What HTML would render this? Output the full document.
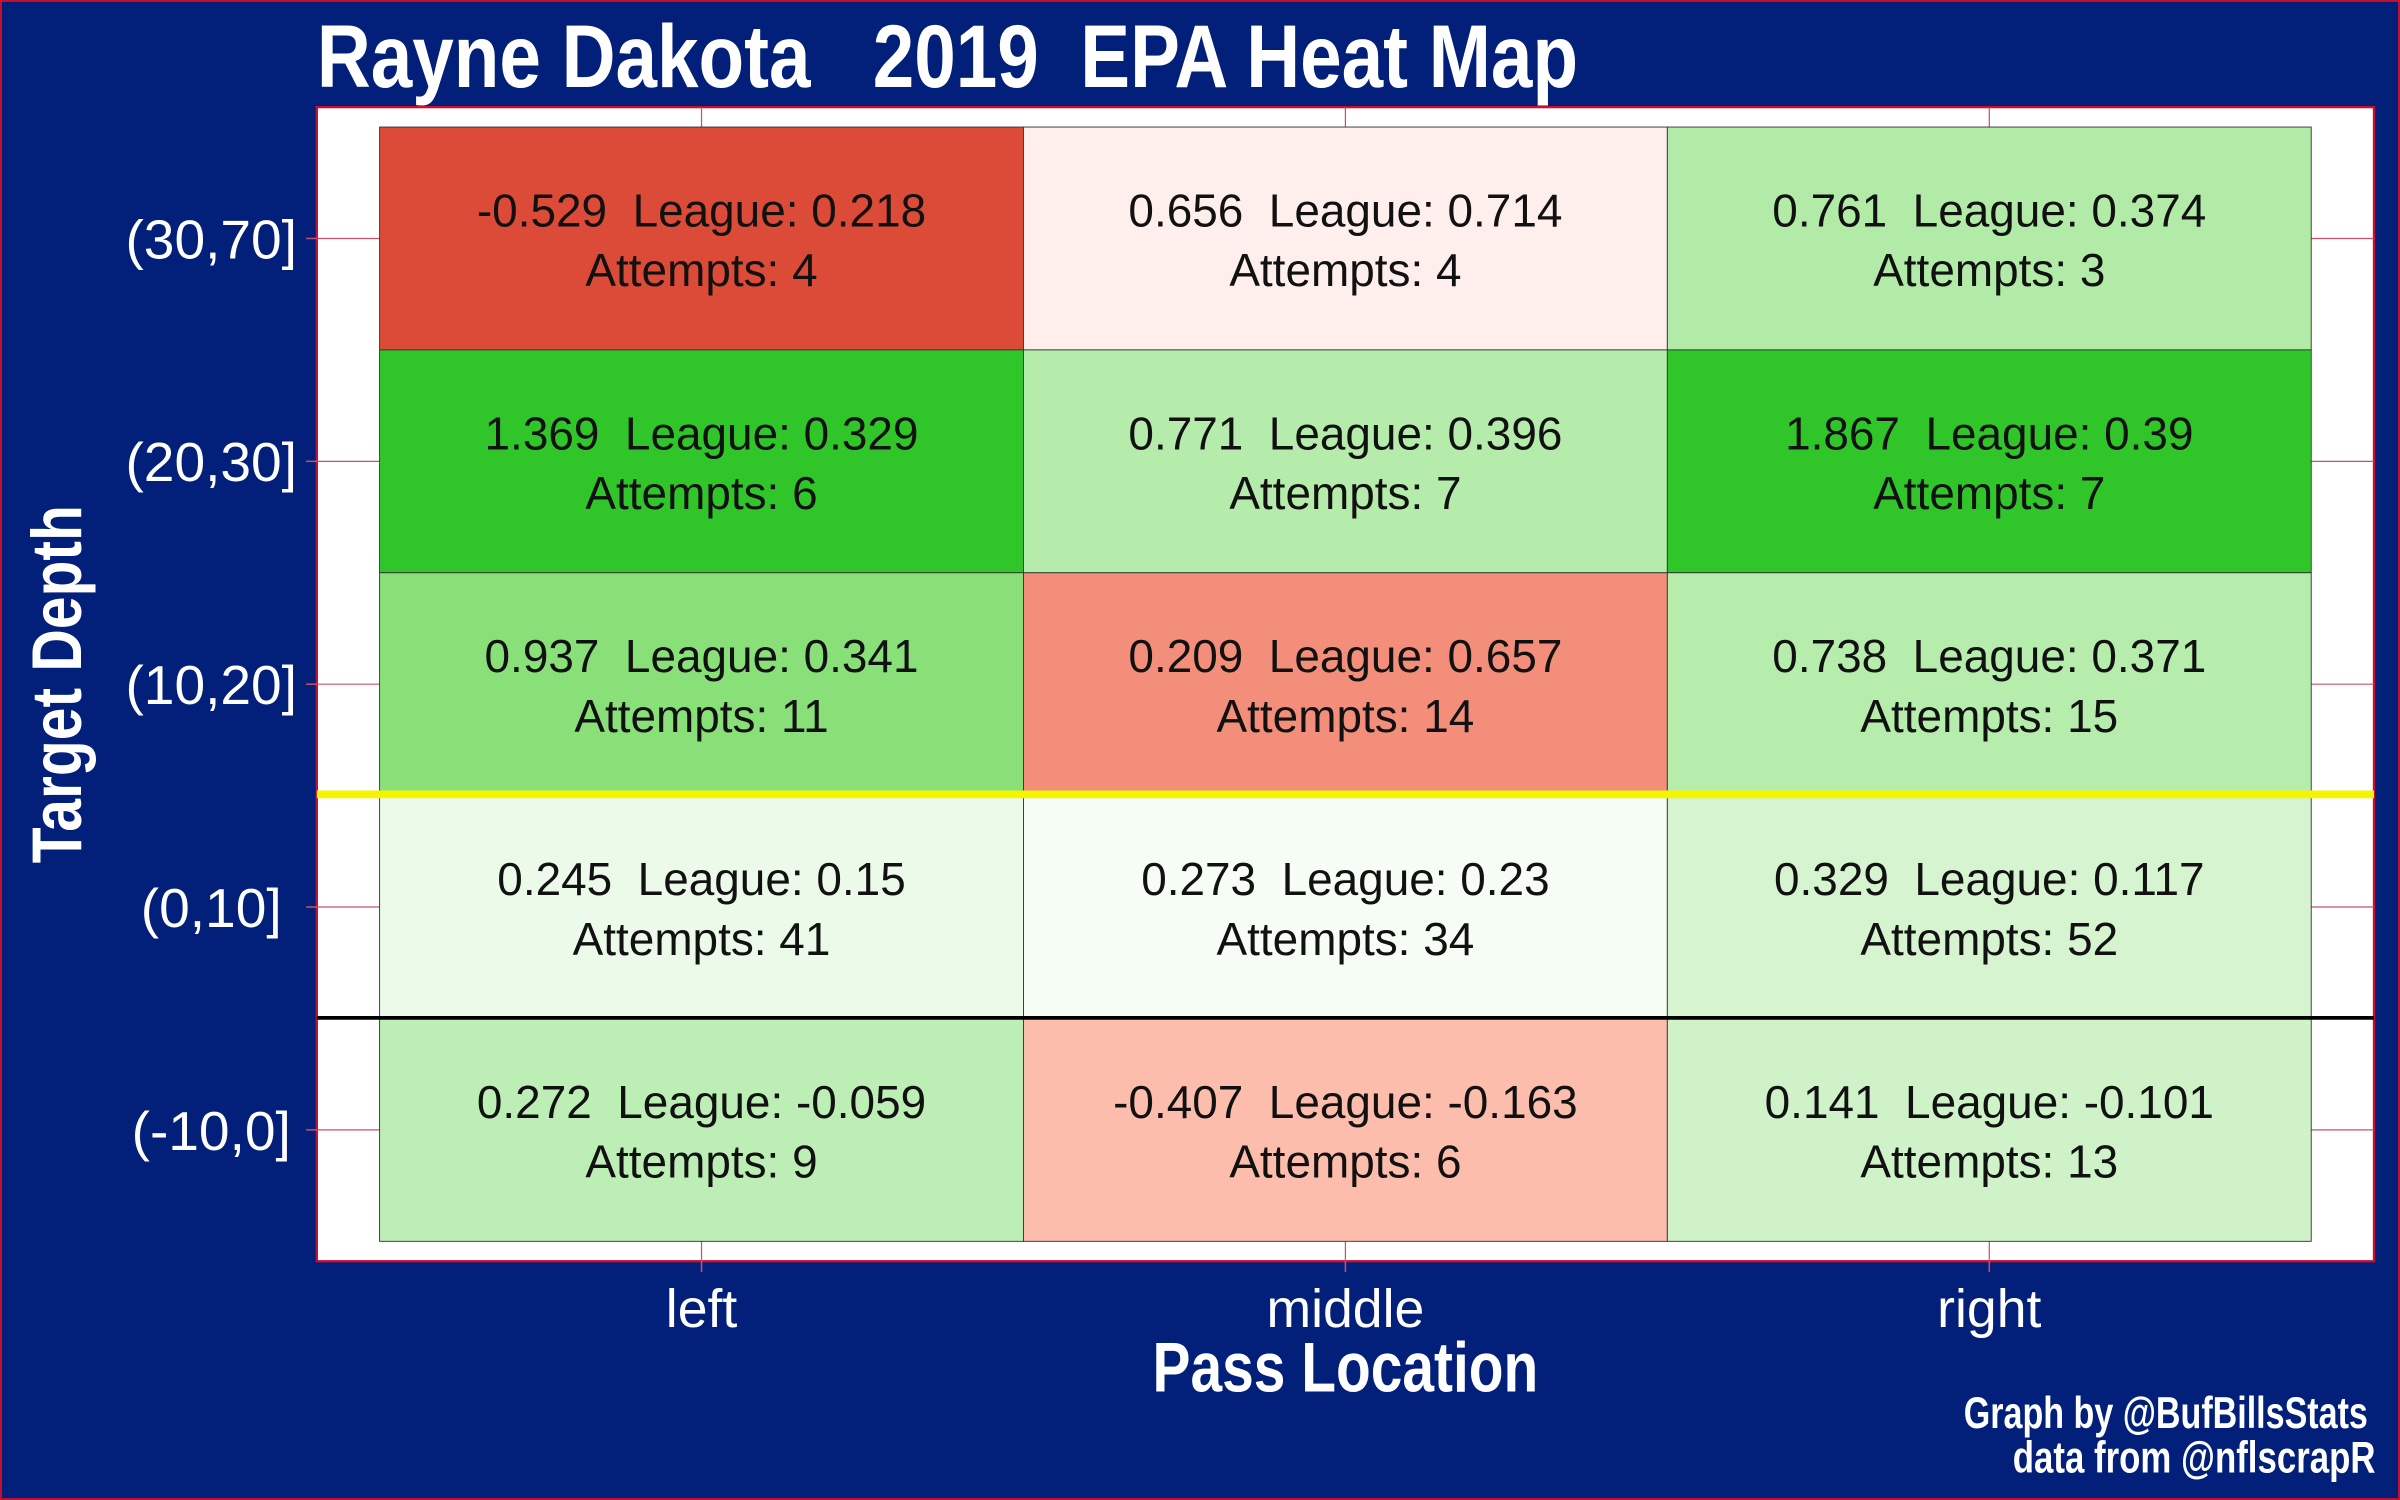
<!DOCTYPE html>
<html><head><meta charset="utf-8"><style>
html,body{margin:0;padding:0;background:#02207a;}
svg{display:block}
text{white-space:pre}
.cond{font-family:"Liberation Sans Narrow","Liberation Sans",sans-serif;font-weight:bold;fill:#fff}
.lbl{font-family:"Liberation Sans",sans-serif;}
</style></head><body>
<svg id="chart" width="2400" height="1500" viewBox="0 0 1568 980" xmlns="http://www.w3.org/2000/svg">
<rect x="0.5" y="0.5" width="1567" height="979" fill="#02207a" stroke="#c8102e" stroke-width="1.5"/>
<text class="cond" x="207" y="57" font-size="58" textLength="824" lengthAdjust="spacingAndGlyphs">Rayne Dakota   2019  EPA Heat Map</text>
<rect x="207" y="70" width="1344" height="754" fill="#fff" stroke="#c8102e" stroke-width="1.5"/>
<g id="grid"></g>
<g id="tiles"></g>
<g id="labels"></g>
<line x1="207" y1="519" x2="1551" y2="519" stroke="#f5f500" stroke-width="5"/>
<line x1="207" y1="665" x2="1551" y2="665" stroke="#000" stroke-width="2.5"/>
<g id="axes"></g>
<text class="cond" x="879" y="909" font-size="46" text-anchor="middle" textLength="252" lengthAdjust="spacingAndGlyphs">Pass Location</text>
<text class="cond" transform="translate(53,447) rotate(-90)" font-size="46" text-anchor="middle" textLength="234" lengthAdjust="spacingAndGlyphs">Target Depth</text>
<text class="cond" x="1547" y="933" font-size="29" text-anchor="end" textLength="264" lengthAdjust="spacingAndGlyphs">Graph by @BufBillsStats</text>
<text class="cond" x="1552" y="962" font-size="29" text-anchor="end" textLength="237" lengthAdjust="spacingAndGlyphs">data from @nflscrapR</text>
</svg>
<script>
const locations = ["left", "middle", "right"];
const depths = ["(30,70]", "(20,30]", "(10,20]", "(0,10]", "(-10,0]"];
const epaLeft = [-0.529, 1.369, 0.937, 0.245, 0.272];
const epaMiddle = [0.656, 0.771, 0.209, 0.273, -0.407];
const epaRight = [0.761, 1.867, 0.738, 0.329, 0.141];
const leagueLeft = [0.218, 0.329, 0.341, 0.15, -0.059];
const leagueMiddle = [0.714, 0.396, 0.657, 0.23, -0.163];
const leagueRight = [0.374, 0.39, 0.371, 0.117, -0.101];
const attLeft = [4, 6, 11, 41, 9];
const attMiddle = [4, 7, 14, 34, 6];
const attRight = [3, 7, 15, 52, 13];

const epa = [epaLeft, epaMiddle, epaRight];
const league = [leagueLeft, leagueMiddle, leagueRight];
const att = [attLeft, attMiddle, attRight];

const NS = "http://www.w3.org/2000/svg";
const tileX0 = 248, tileX1 = 1510, tileY0 = 83, tileY1 = 811;
const bw = (tileX1 - tileX0) / locations.length;
const bh = (tileY1 - tileY0) / depths.length;
function xScale(i){ return tileX0 + i * bw; }
function yScale(j){ return tileY0 + j * bh; }

const stops = [[-0.75,[220,74,54]],[-0.45,[242,142,122]],[-0.25,[253,187,171]],[0,[255,255,255]],[0.6,[136,224,120]],[1.0,[48,198,42]]];
function colorFor(d){
  if (d <= stops[0][0]) return "rgb(" + stops[0][1].join(",") + ")";
  for (let k = 1; k < stops.length; k++){
    if (d <= stops[k][0]){
      const a = stops[k-1], b = stops[k];
      const t = (d - a[0]) / (b[0] - a[0]);
      const c = a[1].map((v, i) => Math.round(v + (b[1][i] - v) * t));
      return "rgb(" + c.join(",") + ")";
    }
  }
  return "rgb(" + stops[stops.length-1][1].join(",") + ")";
}
function mk(tag, attrs, parent){
  const e = document.createElementNS(NS, tag);
  for (const k in attrs) e.setAttribute(k, attrs[k]);
  parent.appendChild(e);
  return e;
}
const grid = document.getElementById("grid");
const tiles = document.getElementById("tiles");
const labels = document.getElementById("labels");
const axes = document.getElementById("axes");

locations.forEach((loc, i) => {
  const cx = xScale(i) + bw / 2;
  const g = mk("line", {x1: cx, y1: 70, x2: cx, y2: 824, stroke: "#c8506a", "stroke-width": 0.8}, grid);
  
  
  const t = mk("line", {x1: cx, y1: 824, x2: cx, y2: 831, stroke: "#c8506a", "stroke-width": 1}, axes);
  
  
  const l = mk("text", {x: cx, y: 867, "font-size": 35, fill: "#fff", "text-anchor": "middle", class: "lbl"}, axes);
  l.textContent = loc;
  
  
});
depths.forEach((dep, j) => {
  const cy = yScale(j) + bh / 2;
  const g = mk("line", {x1: 207, y1: cy, x2: 1551, y2: cy, stroke: "#c8506a", "stroke-width": 0.8}, grid);
  
  
  const t = mk("line", {x1: 200, y1: cy, x2: 207, y2: cy, stroke: "#c8506a", "stroke-width": 1}, axes);
  
  
  const l = mk("text", {x: 138, y: cy + 13, "font-size": 36, fill: "#fff", "text-anchor": "middle", class: "lbl"}, axes);
  l.textContent = dep;
  
  
});
locations.forEach((loc, i) => {
  depths.forEach((dep, j) => {
    const d = epa[i][j] - league[i][j];
    const r = mk("rect", {x: xScale(i), y: yScale(j), width: bw, height: bh, fill: colorFor(d), stroke: "#333", "stroke-width": 0.6}, tiles);
    
    
    const cx = xScale(i) + bw / 2, cy = yScale(j);
    const t1 = mk("text", {x: cx, y: cy + 65, "font-size": 30, fill: "#111", "text-anchor": "middle", class: "lbl"}, labels);
    t1.textContent = epa[i][j] + "  League: " + league[i][j];
    
    
    const t2 = mk("text", {x: cx, y: cy + 104, "font-size": 30, fill: "#111", "text-anchor": "middle", class: "lbl"}, labels);
    t2.textContent = "Attempts: " + att[i][j];
    
    
  });
});
</script>
</body></html>
